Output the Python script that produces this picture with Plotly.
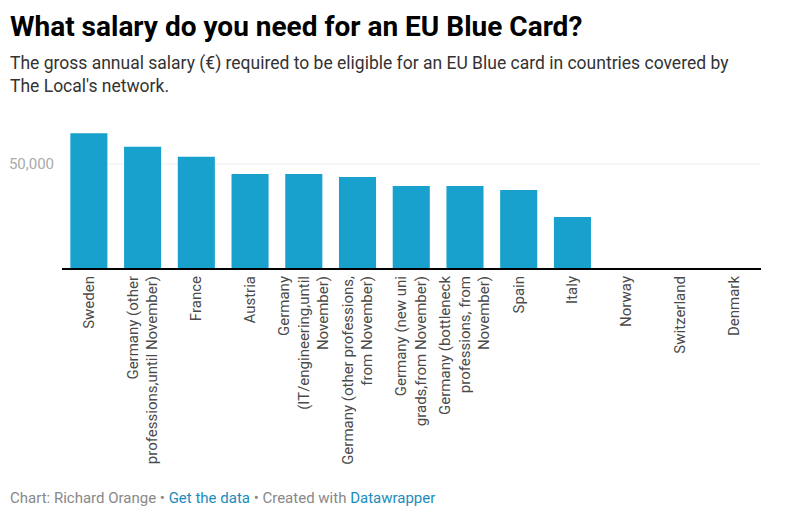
import plotly.graph_objects as go

countries = ["Sweden", "Germany (other<br>professions,until November)", "France", "Austria",
             "Germany<br>(IT/engineering,until<br>November)",
             "Germany (other professions,<br>from November)",
             "Germany (new uni<br>grads,from November)",
             "Germany (bottleneck<br>professions, from<br>November)",
             "Spain", "Italy", "Norway", "Switzerland", "Denmark"]
salaries = [64800, 58300, 53500, 45200, 45200, 43750, 39400, 39400, 37500, 24500, None, None, None]
y_ticks = [50000]
y_tick_labels = ["50,000"]

title = "What salary do you need for an EU Blue Card?"
subtitle = ("The gross annual salary (€) required to be eligible for an EU Blue card in countries covered by<br>"
            "The Local's network.")
link = "#1a8cbd"
footer = ("Chart: Richard Orange • <span style='color:%s'>Get the data</span> • Created with "
          "<span style='color:%s'>Datawrapper</span>" % (link, link))

fig = go.Figure(go.Bar(x=countries, y=salaries, marker_color="#18a1cd", marker_line_width=0))

# the page adds an 8px body margin, so the figure is 16px smaller than the window
fig.update_layout(
    width=770, height=500,
    autosize=False,
    paper_bgcolor="white", plot_bgcolor="white",
    font=dict(family="Roboto", color="#333333"),
    margin=dict(l=54, r=17, t=117, b=240, autoexpand=False),
    bargap=0.31,
    showlegend=False,
)
fig.update_xaxes(type="category", tickangle=-90, tickfont=dict(size=15, color="#4a4a4a"),
                 showline=True, linecolor="black", linewidth=2, showgrid=False,
                 ticks="", ticklen=0, automargin=False)
fig.update_yaxes(range=[0, 68750], tickvals=y_ticks, ticktext=y_tick_labels,
                 tickfont=dict(size=15, color="#aaaaaa"), showgrid=False,
                 zeroline=False, showline=False, ticks="", ticklabelstandoff=7,
                 automargin=False)
for t in y_ticks:
    fig.add_shape(type="line", xref="x", yref="y", x0=0, x1=12.5, y0=t, y1=t,
                  line=dict(color="#eeeeee", width=1), layer="below")

left = -52 / 699
fig.add_annotation(text="<b>%s</b>" % title, xref="paper", yref="paper", x=left, y=1.692,
                   showarrow=False, xanchor="left", yanchor="middle", align="left",
                   xshift=-2, font=dict(size=28, color="black"))
fig.add_annotation(text=subtitle, xref="paper", yref="paper", x=left, y=1.35,
                   showarrow=False, xanchor="left", yanchor="middle", align="left",
                   xshift=-2, font=dict(size=17.5, color="#333333"))
fig.add_annotation(text=footer, xref="paper", yref="paper", x=left, y=-1.608,
                   showarrow=False, xanchor="left", yanchor="middle", align="left",
                   xshift=-2, font=dict(size=15, color="#888888"))

fig.write_html("out.html")
